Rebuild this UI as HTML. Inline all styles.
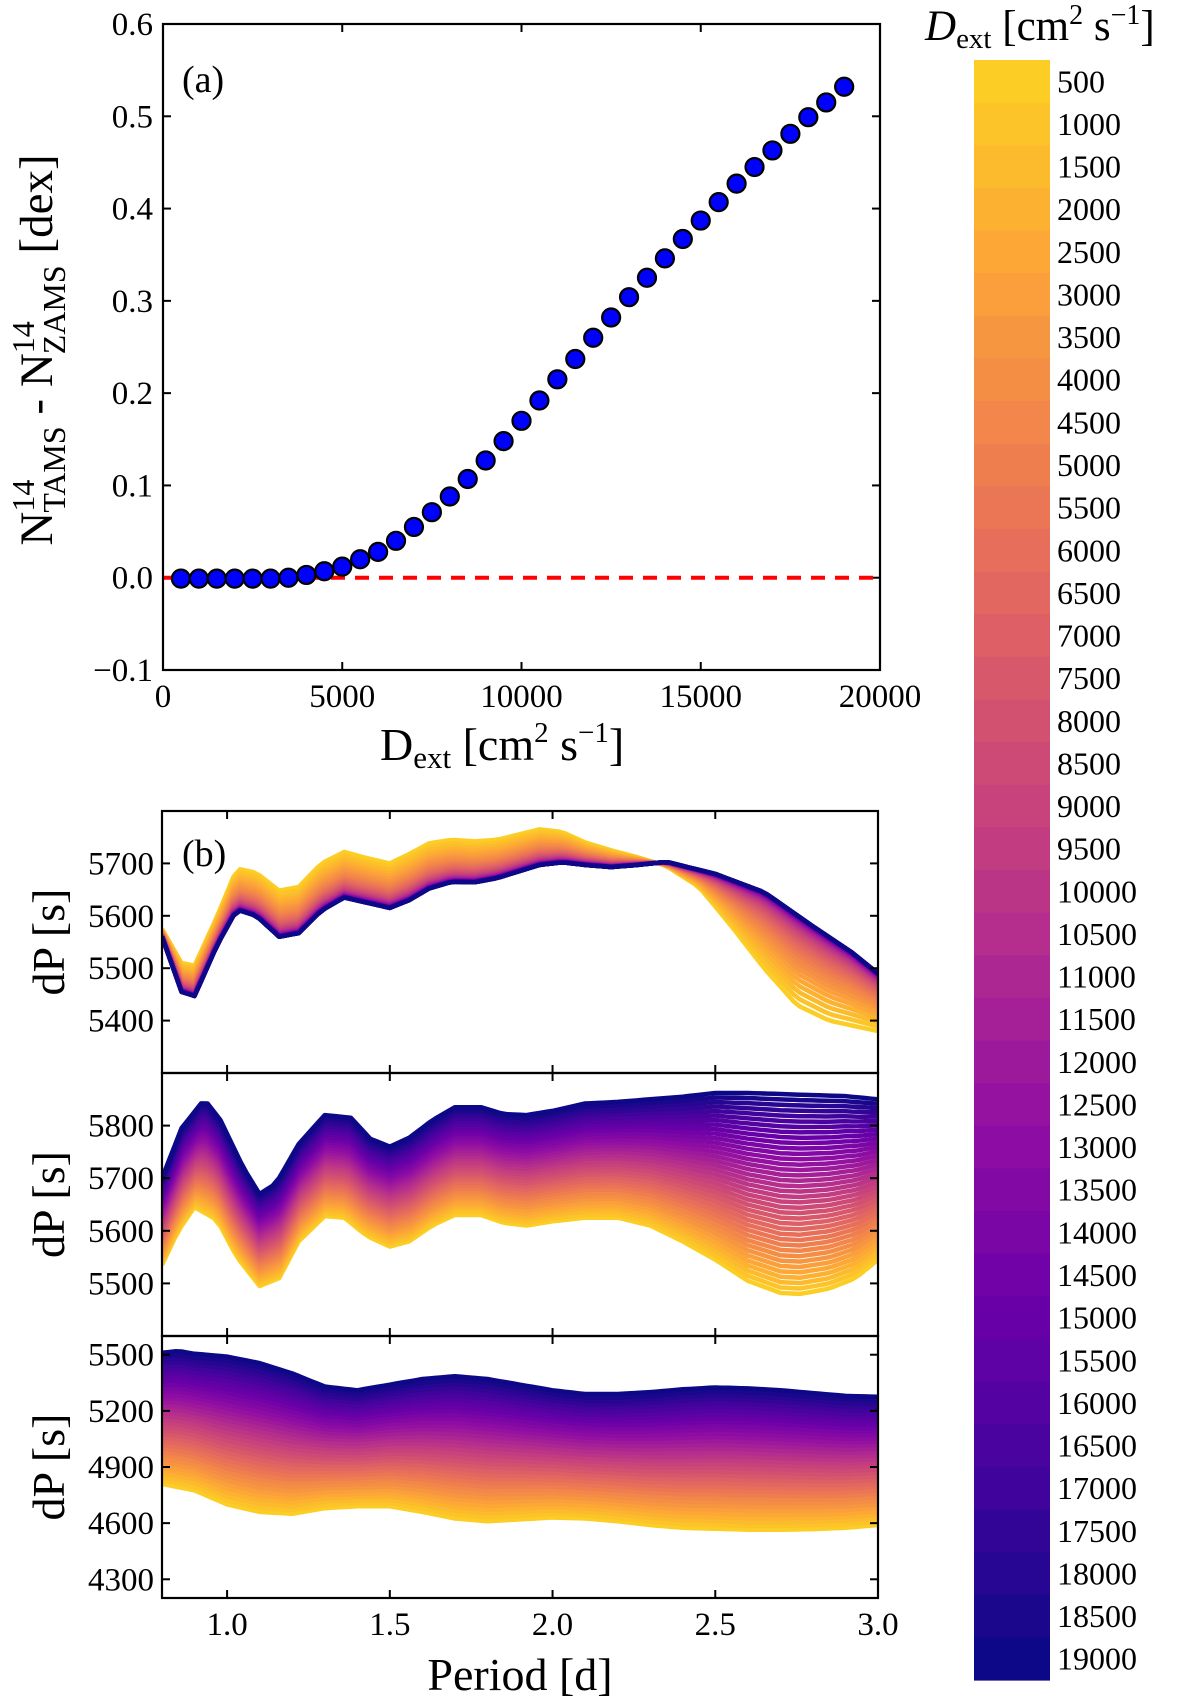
<!DOCTYPE html>
<html><head><meta charset="utf-8"><style>
html,body{margin:0;padding:0;background:#fff;}
svg{display:block;font-family:"Liberation Serif",serif;}
</style></head><body>
<svg id="fig" width="1200" height="1703" viewBox="0 0 1200 1703" xmlns="http://www.w3.org/2000/svg">
<g id="pa"></g>
<g id="pb"></g>
<g id="cb"></g>
</svg>
<script>
// Panel (a) data
const dValues = [500,1000,1500,2000,2500,3000,3500,4000,4500,5000,5500,6000,6500,7000,7500,8000,8500,9000,9500,10000,10500,11000,11500,12000,12500,13000,13500,14000,14500,15000,15500,16000,16500,17000,17500,18000,18500,19000];
const nDiff = [-0.001,-0.001,-0.001,-0.001,-0.001,-0.001,0.0,0.003,0.007,0.012,0.02,0.028,0.04,0.055,0.071,0.088,0.107,0.127,0.148,0.17,0.192,0.215,0.237,0.26,0.282,0.304,0.325,0.346,0.367,0.387,0.407,0.427,0.445,0.463,0.481,0.499,0.515,0.532];
const aXTicks = [0,5000,10000,15000,20000];
const aYTicks = [-0.1,0.0,0.1,0.2,0.3,0.4,0.5,0.6];
const aYTickLabels = ["\u22120.1","0.0","0.1","0.2","0.3","0.4","0.5","0.6"];
// Panel (b) data: extreme curves (low D = 500, high D = 19000)
const b1LowX = [0.8,0.86,0.9,0.97,1.03,1.09,1.16,1.22,1.29,1.36,1.43,1.5,1.56,1.62,1.69,1.76,1.83,1.96,2.03,2.1,2.18,2.26,2.35,2.45,2.55,2.65,2.75,2.85,3.0];
const b1LowY = [5575,5510,5505,5600,5690,5682,5648,5655,5700,5722,5710,5700,5718,5738,5745,5742,5745,5765,5760,5740,5725,5712,5695,5655,5580,5500,5430,5400,5380];
const b1HighX = [0.8,0.86,0.9,0.97,1.03,1.09,1.16,1.22,1.29,1.36,1.43,1.5,1.56,1.62,1.69,1.76,1.83,1.96,2.03,2.1,2.18,2.26,2.35,2.5,2.65,2.8,2.92,3.0];
const b1HighY = [5560,5455,5447,5545,5612,5600,5560,5567,5610,5635,5625,5615,5630,5652,5665,5664,5672,5697,5702,5697,5693,5697,5703,5680,5645,5580,5530,5490];
const b2LowX = [0.8,0.85,0.9,0.97,1.03,1.1,1.16,1.22,1.3,1.36,1.43,1.5,1.56,1.63,1.7,1.78,1.85,1.92,2.0,2.1,2.2,2.3,2.4,2.5,2.6,2.7,2.76,2.85,2.93,3.0];
const b2LowY = [5535,5600,5645,5620,5550,5495,5510,5580,5628,5625,5590,5570,5580,5610,5630,5630,5615,5610,5618,5625,5625,5610,5580,5545,5505,5482,5480,5490,5510,5545];
const b2HighX = [0.8,0.86,0.93,0.98,1.05,1.1,1.15,1.22,1.3,1.38,1.44,1.5,1.56,1.63,1.7,1.78,1.85,1.92,2.0,2.1,2.2,2.3,2.4,2.5,2.6,2.7,2.8,2.9,3.0];
const b2HighY = [5700,5795,5850,5810,5720,5670,5690,5765,5820,5815,5775,5760,5777,5810,5835,5835,5822,5820,5828,5842,5845,5850,5855,5862,5862,5860,5858,5856,5850];
const b3LowX = [0.8,0.9,1.0,1.1,1.2,1.3,1.4,1.5,1.6,1.7,1.8,1.9,2.0,2.1,2.2,2.3,2.4,2.5,2.6,2.7,2.8,2.9,3.0];
const b3LowY = [4810,4775,4700,4660,4650,4680,4690,4690,4660,4625,4610,4620,4630,4625,4610,4590,4575,4570,4565,4565,4568,4575,4590];
const b3HighX = [0.8,0.85,0.9,1.0,1.1,1.2,1.3,1.4,1.5,1.6,1.7,1.8,1.9,2.0,2.1,2.2,2.3,2.4,2.5,2.6,2.7,2.8,2.9,3.0];
const b3HighY = [5510,5520,5505,5490,5455,5400,5330,5310,5340,5370,5385,5370,5340,5310,5290,5290,5300,5315,5325,5320,5310,5295,5280,5275];
const bXTicks = [1.0,1.5,2.0,2.5,3.0];
const b1YTicks = [5400,5500,5600,5700];
const b2YTicks = [5500,5600,5700,5800];
const b3YTicks = [4300,4600,4900,5200,5500];

const NS="http://www.w3.org/2000/svg";
function mk(parent,tag,attrs,text){const e=document.createElementNS(NS,tag);for(const k in attrs)e.setAttribute(k,attrs[k]);if(text!==undefined)e.textContent=text;parent.appendChild(e);return e;}
const plasma=[[13,8,135],[65,4,157],[106,0,168],[143,13,164],[177,42,144],[204,71,120],[225,100,98],[242,132,75],[252,166,54],[252,206,37],[240,249,33]];
function cmap(t){t=Math.max(0,Math.min(1,t))*10;const i=Math.min(9,Math.floor(t)),f=t-i;const a=plasma[i],b=plasma[i+1];return `rgb(${Math.round(a[0]+(b[0]-a[0])*f)},${Math.round(a[1]+(b[1]-a[1])*f)},${Math.round(a[2]+(b[2]-a[2])*f)})`;}
function dColor(d){return cmap(0.9*(19000-d)/18500);}
function interp(xs,ys,x){if(x<=xs[0])return ys[0];for(let i=1;i<xs.length;i++){if(x<=xs[i]){const f=(x-xs[i-1])/(xs[i]-xs[i-1]);return ys[i-1]+f*(ys[i]-ys[i-1]);}}return ys[ys.length-1];}

// ---------- Panel a ----------
const pa=document.getElementById('pa');
const A={l:163,r:880,t:24,b:670};
const ax=v=>A.l+(v-0)/20000*(A.r-A.l);
const ay=v=>A.b-(v+0.1)/0.7*(A.b-A.t);
for(let i=0;i<aXTicks.length;i++){const x=ax(aXTicks[i]);
  let t=mk(pa,'line',{x1:x,x2:x,y1:A.b,y2:A.b-8,stroke:'#000','stroke-width':2});
  
  mk(pa,'line',{x1:x,x2:x,y1:A.t,y2:A.t+8,stroke:'#000','stroke-width':2});
  let l=mk(pa,'text',{x:x,y:A.b+37,'font-size':33,'text-anchor':'middle'},String(aXTicks[i]));
  }
for(let i=0;i<aYTicks.length;i++){const y=ay(aYTicks[i]);
  mk(pa,'line',{x1:A.l,x2:A.l+8,y1:y,y2:y,stroke:'#000','stroke-width':2});
  mk(pa,'line',{x1:A.r,x2:A.r-8,y1:y,y2:y,stroke:'#000','stroke-width':2});
  let l=mk(pa,'text',{x:A.l-10,y:y+11,'font-size':33,'text-anchor':'end'},aYTickLabels[i]);
  }
let zl=mk(pa,'line',{x1:A.l,x2:A.r,y1:ay(0),y2:ay(0),stroke:'#ff0000','stroke-width':4,'stroke-dasharray':'14 10'});

for(let i=0;i<dValues.length;i++){
  let c=mk(pa,'circle',{cx:ax(dValues[i]),cy:ay(nDiff[i]),r:9,fill:'#0000ff',stroke:'#000','stroke-width':2.2});
  }
let fa=mk(pa,'rect',{x:A.l,y:A.t,width:A.r-A.l,height:A.b-A.t,fill:'none',stroke:'#000','stroke-width':2.2});

let la=mk(pa,'text',{x:182,y:92,'font-size':38},'(a)');
let xl=mk(pa,'text',{x:380,y:760,'font-size':46},'');
xl.innerHTML='D<tspan font-size="31" dy="8">ext</tspan><tspan dy="-8"> [cm</tspan><tspan font-size="29" dy="-18">2</tspan><tspan dy="18"> s</tspan><tspan font-size="29" dy="-18">−1</tspan><tspan dy="18">]</tspan>';
let yl=mk(pa,'text',{transform:'translate(52,350) rotate(-90)','font-size':47,'text-anchor':'middle'},'');
yl.innerHTML='N<tspan font-size="32" dy="-18">14</tspan><tspan font-size="32" dx="-33" dy="31">TAMS</tspan><tspan dy="-13"> - N</tspan><tspan font-size="32" dy="-18">14</tspan><tspan font-size="32" dx="-33" dy="31">ZAMS</tspan><tspan dy="-13"> [dex]</tspan>';

// ---------- Panel b ----------
const pb=document.getElementById('pb');
const BL=162,BR=878;
const bx=v=>BL+(v-0.8)/2.2*(BR-BL);
const panels=[
 {t:811,b:1073,min:5300,max:5800,lx:b1LowX,ly:b1LowY,hx:b1HighX,hy:b1HighY,ticks:b1YTicks,pow:3,name:'panel-b-top'},
 {t:1073,b:1336,min:5400,max:5900,lx:b2LowX,ly:b2LowY,hx:b2HighX,hy:b2HighY,ticks:b2YTicks,pow:1,name:'panel-b-middle'},
 {t:1336,b:1598,min:4200,max:5600,lx:b3LowX,ly:b3LowY,hx:b3HighX,hy:b3HighY,ticks:b3YTicks,pow:1,name:'panel-b-bottom'}];
const N=111;
panels.forEach((p,pi)=>{
  const g=mk(pb,'g',{});
  const cid='clip'+pi;const cp=mk(g,'clipPath',{id:cid});mk(cp,'rect',{x:BL,y:p.t,width:BR-BL,height:p.b-p.t});
  const by=v=>p.b-(v-p.min)/(p.max-p.min)*(p.b-p.t);
  const lg=mk(g,'g',{'clip-path':`url(#${cid})`});
  for(let k=0;k<dValues.length;k++){
    const d=dValues[k];const frac=(d-500)/18500;const w=Math.pow(1-frac,p.pow);
    let pts=[];
    for(let j=0;j<N;j++){const x=0.8+2.2*j/(N-1);const lo=interp(p.lx,p.ly,x),hi=interp(p.hx,p.hy,x);pts.push(bx(x).toFixed(1)+','+by(hi+w*(lo-hi)).toFixed(1));}
    const pl=mk(lg,'polyline',{points:pts.join(' '),fill:'none',stroke:dColor(d),'stroke-width':4.5,'stroke-linejoin':'round'});
    
  }
  bXTicks.forEach(v=>{const x=bx(v);mk(g,'line',{x1:x,x2:x,y1:p.b,y2:p.b-8,stroke:'#000','stroke-width':2});mk(g,'line',{x1:x,x2:x,y1:p.t,y2:p.t+8,stroke:'#000','stroke-width':2});});
  p.ticks.forEach(v=>{const y=by(v);mk(g,'line',{x1:BL,x2:BL+8,y1:y,y2:y,stroke:'#000','stroke-width':2});mk(g,'line',{x1:BR,x2:BR-8,y1:y,y2:y,stroke:'#000','stroke-width':2});
    let l=mk(g,'text',{x:BL-8,y:y+11,'font-size':33,'text-anchor':'end'},String(v));});
  mk(g,'rect',{x:BL,y:p.t,width:BR-BL,height:p.b-p.t,fill:'none',stroke:'#000','stroke-width':2.2});
  let yt=mk(g,'text',{transform:`translate(64,${(p.t+p.b)/2}) rotate(-90)`,'font-size':46,'text-anchor':'middle'},'dP [s]');
  
});
bXTicks.forEach(v=>{let l=mk(pb,'text',{x:bx(v),y:1635,'font-size':33,'text-anchor':'middle'},v.toFixed(1));});
let lb=mk(pb,'text',{x:182,y:866,'font-size':38},'(b)');
let px=mk(pb,'text',{x:520,y:1690,'font-size':46,'text-anchor':'middle'},'Period [d]');

// ---------- Colorbar ----------
const cb=document.getElementById('cb');
const CT=60,CBm=1680,CL=974,CW=76;const bh=(CBm-CT)/dValues.length;
dValues.forEach((d,i)=>{
  let r=mk(cb,'rect',{x:CL,y:CT+i*bh,width:CW,height:bh+0.6,fill:dColor(d)});
  
  let l=mk(cb,'text',{x:1057,y:CT+(i+0.5)*bh+11,'font-size':32},String(d));
  
});
let ct=mk(cb,'text',{x:925,y:40,'font-size':43},'');
ct.innerHTML='<tspan font-style="italic">D</tspan><tspan font-size="29" dy="8">ext</tspan><tspan dy="-8"> [cm</tspan><tspan font-size="28" dy="-16">2</tspan><tspan dy="16"> s</tspan><tspan font-size="28" dy="-16">−1</tspan><tspan dy="16">]</tspan>';
</script>
</body></html>
